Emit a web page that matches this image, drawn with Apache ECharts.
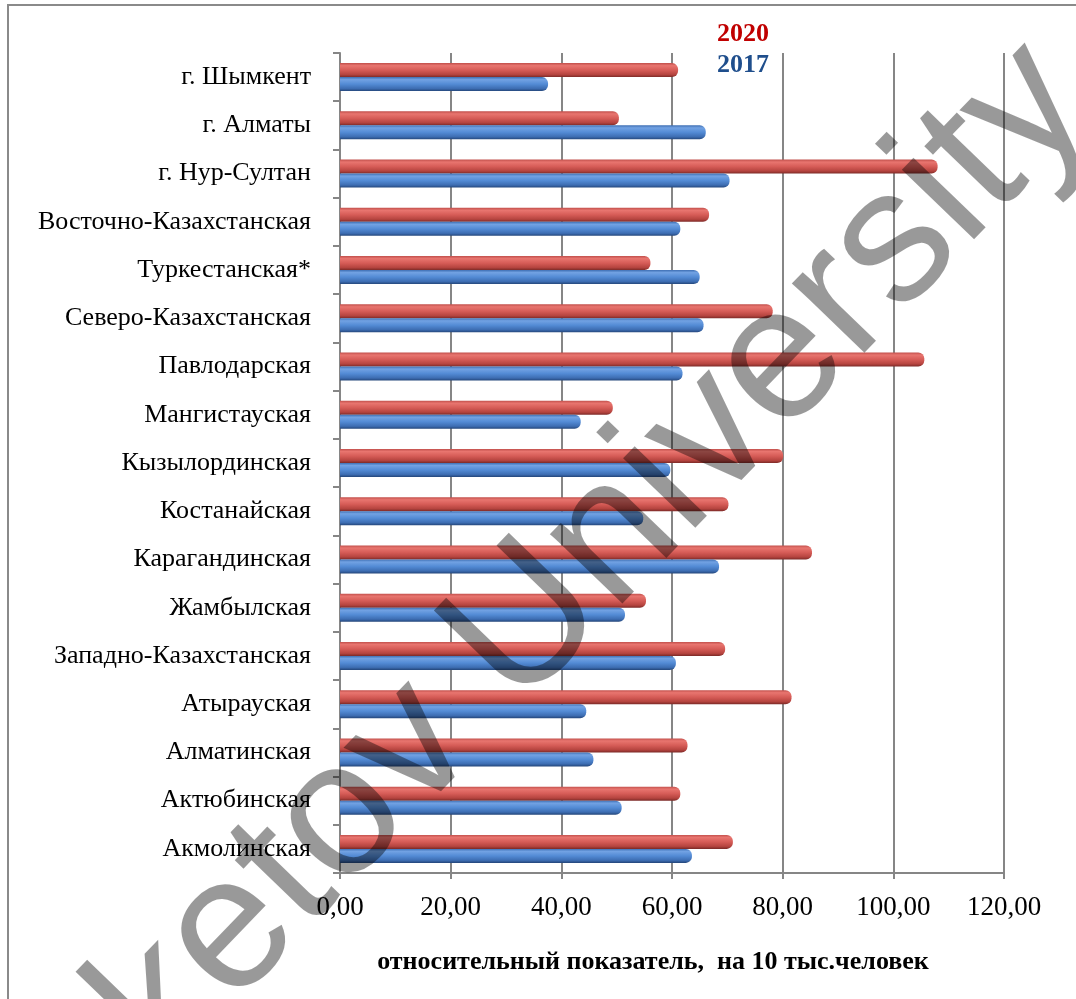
<!DOCTYPE html>
<html>
<head>
<meta charset="utf-8">
<script src="https://cdn.jsdelivr.net/npm/echarts@6/dist/echarts.min.js"></script>
<style>
html,body{margin:0;padding:0;background:#fff;}
#chart{width:1076px;height:999px;}
</style>
</head>
<body>
<div id="chart"></div>
<script>
// Categories, listed from bottom to top
var categories = ['Акмолинская','Актюбинская','Алматинская','Атырауская','Западно-Казахстанская','Жамбылская','Карагандинская','Костанайская','Кызылординская','Мангистауская','Павлодарская','Северо-Казахстанская','Туркестанская*','Восточно-Казахстанская','г. Нур-Султан','г. Алматы','г. Шымкент'];
var values2017 = [63.6, 50.9, 45.8, 44.5, 60.7, 51.5, 68.5, 54.8, 59.7, 43.5, 61.9, 65.7, 65.0, 61.5, 70.4, 66.1, 37.6];
var values2020 = [71.0, 61.5, 62.8, 81.6, 69.6, 55.3, 85.3, 70.2, 80.1, 49.3, 105.6, 78.2, 56.1, 66.7, 108.0, 50.4, 61.1];
var seriesNames = ['2020', '2017'];
var axisTitle = 'относительный показатель,  на 10 тыс.человек';
var watermark = 'ketov University';

var chart = echarts.init(document.getElementById('chart'), null, {renderer: 'canvas'});
function grad(stops){
  return new echarts.graphic.LinearGradient(0,0,0,1, stops.map(function(s){return {offset:s[0], color:s[1]};}));
}
var redFill = grad([[0,'#c2504c'],[0.18,'#e8756f'],[0.5,'#d65c57'],[0.82,'#b5443f'],[1,'#7c2a27']]);
var blueFill = grad([[0,'#3f70b4'],[0.18,'#72a2e3'],[0.5,'#538bd5'],[0.82,'#3d6db2'],[1,'#24467a']]);
var serif = '"Liberation Serif","Times New Roman",serif';

chart.setOption({
  backgroundColor: '#ffffff',
  animation: false,
  grid: {left: 340, right: 72, top: 53, bottom: 126},
  legend: {
    orient: 'vertical', left: 707, top: 16, itemGap: 5,
    itemWidth: 0, itemHeight: 26, icon: 'none',
    data: [
      {name: seriesNames[0], textStyle: {color: '#c00000'}},
      {name: seriesNames[1], textStyle: {color: '#1f4e8c'}}
    ],
    textStyle: {fontFamily: serif, fontWeight: 'bold', fontSize: 26}
  },
  xAxis: {
    type: 'value', min: 0, max: 120, interval: 20,
    axisLine: {show: true, lineStyle: {color: '#868686', width: 2}},
    axisTick: {show: true, length: 6, lineStyle: {color: '#868686', width: 2}},
    splitLine: {show: true, lineStyle: {color: '#868686', width: 2}},
    axisLabel: {
      color: '#000', fontFamily: serif, fontSize: 27, margin: 21,
      formatter: function(v){ return v.toFixed(2).replace('.', ','); }
    }
  },
  yAxis: {
    type: 'category', data: categories,
    axisLine: {show: true, lineStyle: {color: '#868686', width: 2}},
    axisTick: {show: true, length: 7, lineStyle: {color: '#868686', width: 2}},
    axisLabel: {color: '#000', fontFamily: serif, fontSize: 26, margin: 29}
  },
  series: [
    {name: seriesNames[0], type: 'bar', data: values2020, barWidth: 14, barGap: '0%',
     itemStyle: {color: redFill, borderRadius: [0,6,6,0]}},
    {name: seriesNames[1], type: 'bar', data: values2017, barWidth: 14, barGap: '0%',
     itemStyle: {color: blueFill, borderRadius: [0,6,6,0]}}
  ],
  graphic: [
    {type: 'rect', z: 1, silent: true,
     shape: {x: 8, y: 5, width: 1100, height: 1100},
     style: {fill: 'none', stroke: '#8a8a8a', lineWidth: 2}},
    {type: 'text', z: 1, silent: true, x: 653, y: 962,
     style: {text: axisTitle, fill: '#000', font: 'bold 26px ' + serif,
             align: 'center', verticalAlign: 'middle', textAlign: 'center', textVerticalAlign: 'middle'}},
    {type: 'text', z: 100, silent: true, x: 128, y: 1040, rotation: 46 * Math.PI / 180,
     style: {text: watermark, fill: 'rgba(0,0,0,0.4)', font: '190px "Liberation Sans", Arial, sans-serif',
             align: 'left', verticalAlign: 'middle', textAlign: 'left', textVerticalAlign: 'middle'}}
  ]
});
</script>
</body>
</html>
